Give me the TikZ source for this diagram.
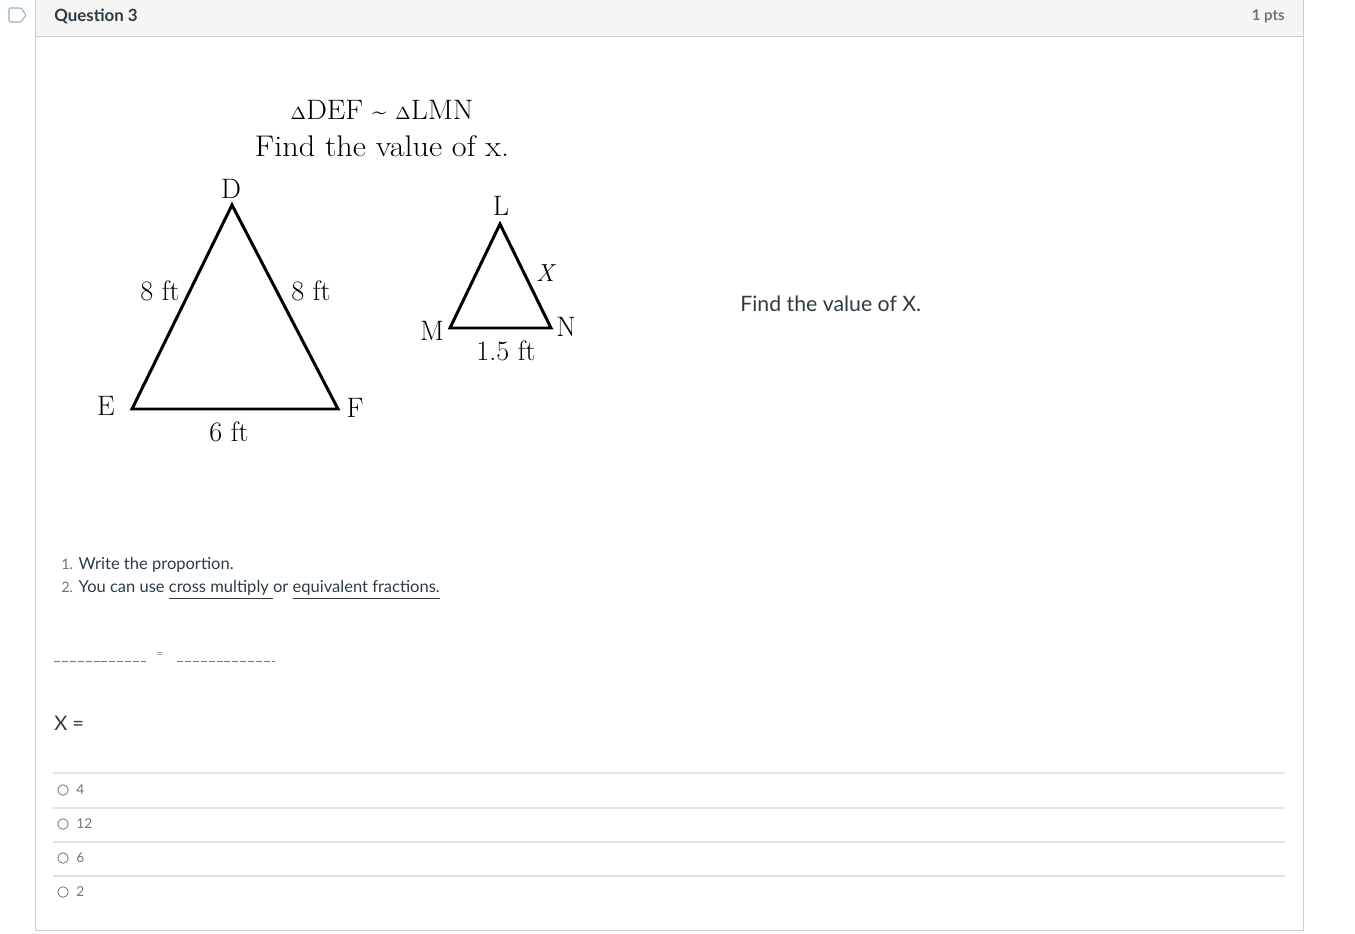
\documentclass[tikz,border=0pt]{standalone}
\usepackage{fontspec}
\setsansfont{Lato}
\usepackage{tikz}

\definecolor{ink}{HTML}{2D3B45}
\definecolor{soft}{HTML}{6B7780}
\definecolor{frame}{HTML}{C7CDD1}
\definecolor{band}{HTML}{F5F5F5}
\definecolor{faint}{HTML}{E1E4E6}
\definecolor{flag}{HTML}{8FB1CC}

\begin{document}
\begin{tikzpicture}[x=0.02cm, y=-0.02cm,
										canvas/.style={font=\sffamily\fontsize{9}{11}\selectfont, text=ink, inner sep=0pt, anchor=west},
										fig/.style={font=\fontsize{16}{18}\selectfont, inner sep=0pt},
										edge/.style={line width=1.7pt, line join=miter},
										choice/.style={circle, draw=soft, line width=0.45pt, minimum size=6pt, inner sep=0pt},
										sep/.style={draw=faint, line width=0.6pt},
										blank/.style={draw=soft, line width=0.5pt, dash pattern=on 3.4pt off 1.1pt}]

		\useasboundingbox (0,0) rectangle (1355,933);

		\draw[frame, fill=band] (35,-2) rectangle (1303,36);
		\draw[frame] (35,36) -- (35,930) -- (1303,930) -- (1303,36);
		\draw[flag, line width=0.6pt, rounded corners=0.6pt] (9,8) -- (21,8) -- (26,15) -- (21,22) -- (9,22) -- cycle;

		\node[canvas, font=\sffamily\bfseries\fontsize{9.6}{11}\selectfont] (title) at (54,16) {Question 3};
		\node[canvas, anchor=east, font=\sffamily\bfseries\fontsize{8.5}{11}\selectfont, text=soft] (points) at (1285,16) {1 pts};

		\node[fig, xscale=1.05] (given) at (382,110) {{\fontsize{10}{10}\selectfont$\Delta$}DEF {\fontsize{14}{10}\selectfont\textasciitilde} {\fontsize{10}{10}\selectfont$\Delta$}LMN};
		\node[fig, font=\fontsize{17}{18}\selectfont, xscale=1.08] (task) at (382,146) {Find the value of x.};

		\coordinate (D) at (232,205);
		\coordinate (E) at (132,409);
		\coordinate (F) at (338,409);
		\draw[edge] (D) -- (E) -- (F) -- cycle;

		\coordinate (L) at (500,224);
		\coordinate (M) at (450,328);
		\coordinate (N) at (551,328);
		\draw[edge] (L) -- (M) -- (N) -- cycle;

		\node[fig] (labD) at (231,189) {D};
		\node[fig] (labE) at (106,406) {E};
		\node[fig] (labF) at (355,408) {F};
		\node[fig] (labL) at (501,206) {L};
		\node[fig] (labM) at (432,331) {M};
		\node[fig] (labN) at (566,327) {N};
		\node[fig, font=\itshape\fontsize{14}{16}\selectfont] (labX) at (545,273) {X};

		\node[fig] (sideDE) at (160,291) {8 ft};
		\node[fig] (sideDF) at (311,291) {8 ft};
		\node[fig] (sideEF) at (229,432) {6 ft};
		\node[fig] (sideMN) at (506,351) {1.5 ft};

		\node[canvas, font=\sffamily\fontsize{12.1}{14}\selectfont] (aside) at (740,304) {Find the value of X.};

		\node[canvas, font=\sffamily\fontsize{9.4}{11}\selectfont] (step1) at (61,565) {{\color{soft}\fontsize{8.2}{10}\selectfont 1.} Write the proportion.};
		\node[canvas, font=\sffamily\fontsize{9.4}{11}\selectfont] (step2) at (61,590) {{\color{soft}\fontsize{8.2}{10}\selectfont 2.} You can use \underline{cross multiply\ }or \underline{equivalent fractions.}};

		\coordinate (blankA) at (54,661);
		\coordinate (blankB) at (146,661);
		\coordinate (blankC) at (177,661);
		\coordinate (blankD) at (275,661);
		\draw[blank] (blankA) -- (blankB);
		\draw[blank] (blankC) -- (blankD);
		\node[canvas, anchor=center, font=\sffamily\fontsize{6}{7}\selectfont, text=soft] (equals) at (160,655) {=};

		\node[canvas, font=\sffamily\fontsize{11.4}{13}\selectfont] (answer) at (54,723) {X =};

		\foreach \y in {773,808,842,876}
			\draw[sep] (53,\y) -- (1285,\y);

		\foreach \v/\y [count=\i] in {4/790,12/824,6/858,2/892} {
			\node[choice] (ring\i) at (63,\y) {};
			\node[canvas, font=\sffamily\fontsize{7.8}{10}\selectfont, text=soft] (option\i) at (76,\y) {\v};
		}

		\end{tikzpicture}
\end{document}
